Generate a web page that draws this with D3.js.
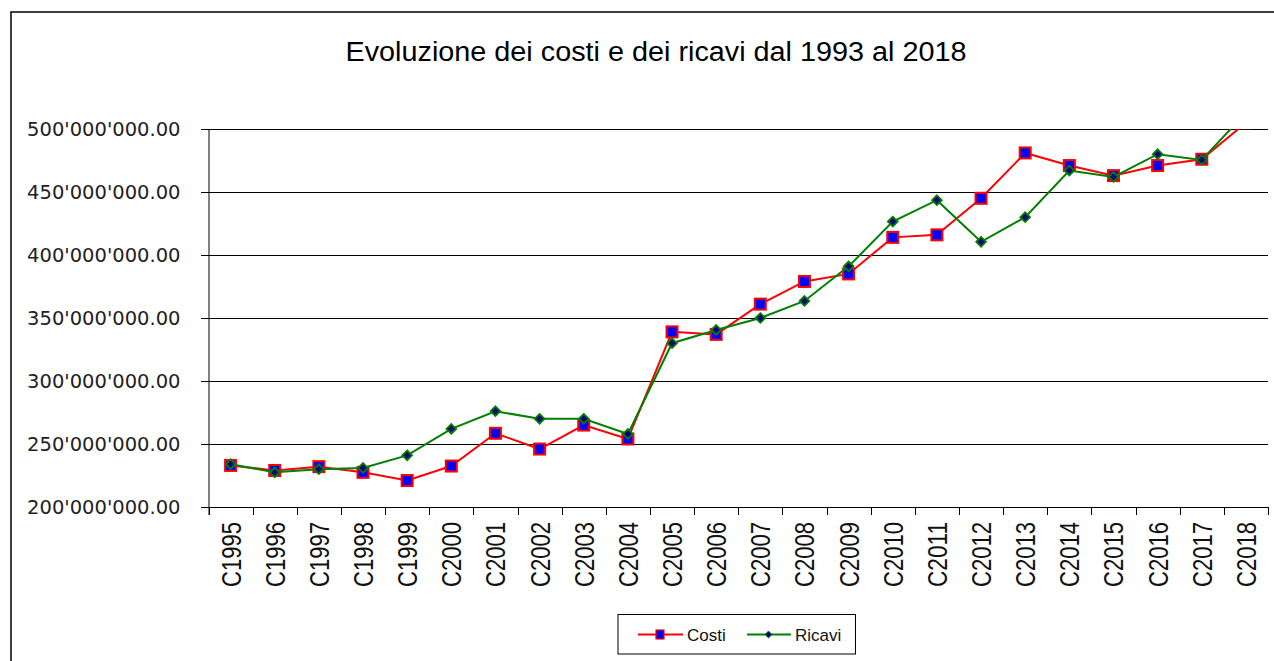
<!DOCTYPE html>
<html>
<head>
<meta charset="utf-8">
<script src="https://cdn.jsdelivr.net/npm/d3@7"></script>
<style>
  html, body { margin: 0; padding: 0; background: #fff; }
  svg { display: block; }
</style>
</head>
<body>
<svg id="chart" width="1274" height="661"></svg>
<script>
// ---- data ----
const titleText = "Evoluzione dei costi e dei ricavi dal 1993 al 2018";
const categories = ["C1995","C1996","C1997","C1998","C1999","C2000","C2001","C2002","C2003","C2004","C2005","C2006","C2007","C2008","C2009","C2010","C2011","C2012","C2013","C2014","C2015","C2016","C2017","C2018"];
const costi  = [233000000, 229000000, 232000000, 227500000, 221000000, 232500000, 258500000, 246000000, 265000000, 254000000, 339000000, 337000000, 361000000, 379000000, 385000000, 414000000, 416000000, 445000000, 481000000, 471000000, 463000000, 471000000, 476000000, 505000000];
const ricavi = [234000000, 227500000, 230000000, 231000000, 241000000, 262000000, 276000000, 270000000, 270000000, 258000000, 330000000, 340500000, 350000000, 363500000, 391000000, 426500000, 443500000, 410500000, 430000000, 467000000, 462000000, 480000000, 475500000, 513000000];
const yTicks = [200000000, 250000000, 300000000, 350000000, 400000000, 450000000, 500000000];
const seriesNames = ["Costi", "Ricavi"];

// ---- layout ----
const svg = d3.select("#chart");
const pLeft = 208.5, pRight = 1268, pTop = 129, pBottom = 507;

const locale = d3.formatLocale({decimal: ".", thousands: "'", grouping: [3], currency: ["", ""]});
const fmt = locale.format(",.2f");

const x = d3.scaleBand().domain(categories).range([pLeft, pRight]).padding(0);
const y = d3.scaleLinear().domain([200000000, 500000000]).range([pBottom, pTop]);
const cx = d => x(d) + x.bandwidth() / 2;

// outer frame
svg.append("rect")
  .attr("x", 11).attr("y", 12).attr("width", 1300).attr("height", 700)
  .attr("fill", "none").attr("stroke", "#000").attr("stroke-width", 1.5);

// title
svg.append("text")
  .attr("x", 656).attr("y", 61)
  .attr("text-anchor", "middle")
  .attr("textLength", 621).attr("lengthAdjust", "spacingAndGlyphs")
  .style("font-family", "'Liberation Sans Narrow', 'Arial Narrow', 'Liberation Sans', sans-serif")
  .style("font-size", "27px")
  .attr("fill", "#000")
  .text(titleText);

// gridlines
svg.append("g").selectAll("line").data(yTicks).join("line")
  .attr("x1", pLeft).attr("x2", pRight)
  .attr("y1", d => Math.round(y(d)) + 0.5).attr("y2", d => Math.round(y(d)) + 0.5)
  .attr("stroke", "#000").attr("stroke-width", 1)
  .attr("shape-rendering", "crispEdges");

// y axis
const yAxis = svg.append("g")
  .attr("transform", `translate(${pLeft},0)`)
  .call(d3.axisLeft(y).tickValues(yTicks).tickFormat(fmt).tickSize(8).tickPadding(20));
yAxis.select(".domain").attr("stroke", "#000").attr("d", `M0.5,${pTop}V${pBottom + 8}`);
yAxis.selectAll(".tick line").attr("stroke", "#000").attr("shape-rendering", "crispEdges");
yAxis.selectAll(".tick text")
  .attr("fill", "#222")
  .style("font-family", "'DejaVu Sans', sans-serif")
  .style("font-size", "19.5px");

// x axis line + boundary ticks
const xg = svg.append("g");
xg.append("line")
  .attr("x1", pLeft).attr("x2", pRight)
  .attr("y1", pBottom + 0.5).attr("y2", pBottom + 0.5)
  .attr("stroke", "#000").attr("shape-rendering", "crispEdges");
const boundaries = categories.map(d => x(d)).concat([x.range()[1]]);
xg.selectAll("line.tk").data(boundaries).join("line").attr("class", "tk")
  .attr("x1", d => Math.round(d) + 0.5).attr("x2", d => Math.round(d) + 0.5)
  .attr("y1", pBottom).attr("y2", pBottom + 8)
  .attr("stroke", "#000").attr("shape-rendering", "crispEdges");
xg.selectAll("text").data(categories).join("text")
  .attr("transform", d => `translate(${cx(d) + 1},${pBottom + 15}) rotate(-90)`)
  .attr("text-anchor", "end")
  .attr("dominant-baseline", "central")
  .attr("textLength", 65).attr("lengthAdjust", "spacingAndGlyphs")
  .style("font-family", "'Liberation Sans Narrow', 'Arial Narrow', 'Liberation Sans', sans-serif")
  .style("font-size", "27px")
  .attr("fill", "#111")
  .text(d => d);

// clip
svg.append("defs").append("clipPath").attr("id", "plotclip")
  .append("rect").attr("x", pLeft).attr("y", pTop).attr("width", pRight - pLeft).attr("height", pBottom - pTop + 10);

const plot = svg.append("g").attr("clip-path", "url(#plotclip)");
const line = d3.line().x((d, i) => cx(categories[i])).y(d => y(d));

// Costi
plot.append("path").datum(costi).attr("d", line)
  .attr("fill", "none").attr("stroke", "#ff0000").attr("stroke-width", 2);
plot.append("g").selectAll("rect").data(costi).join("rect")
  .attr("x", (d, i) => cx(categories[i]) - 5.5).attr("y", d => y(d) - 5.5)
  .attr("width", 11).attr("height", 11)
  .attr("fill", "#0000ff").attr("stroke", "#ff0000").attr("stroke-width", 2);

// Ricavi
plot.append("path").datum(ricavi).attr("d", line)
  .attr("fill", "none").attr("stroke", "#008000").attr("stroke-width", 2);
const diamond = d3.symbol().type(d3.symbolDiamond2).size(60);
plot.append("g").selectAll("path").data(ricavi).join("path")
  .attr("d", diamond)
  .attr("transform", (d, i) => `translate(${cx(categories[i])},${y(d)})`)
  .attr("fill", "#000080").attr("stroke", "#008000").attr("stroke-width", 1.8);

// legend
const lg = svg.append("g");
lg.append("rect").attr("x", 618).attr("y", 614.5).attr("width", 237.5).attr("height", 39.5)
  .attr("fill", "#fff").attr("stroke", "#000").attr("stroke-width", 1);
const ly = 634.5;
// Costi entry
lg.append("line").attr("x1", 638).attr("x2", 683).attr("y1", ly).attr("y2", ly)
  .attr("stroke", "#ff0000").attr("stroke-width", 2);
lg.append("rect").attr("x", 660 - 4).attr("y", ly - 4.5).attr("width", 8).attr("height", 9)
  .attr("fill", "#0000ff").attr("stroke", "#ff0000").attr("stroke-width", 1.2);
lg.append("text").attr("x", 687).attr("y", ly).attr("dy", "0.36em")
  .style("font-family", "'Liberation Sans', Arial, sans-serif").style("font-size", "17px")
  .attr("fill", "#111").text(seriesNames[0]);
// Ricavi entry
lg.append("line").attr("x1", 747).attr("x2", 791).attr("y1", ly).attr("y2", ly)
  .attr("stroke", "#008000").attr("stroke-width", 2);
lg.append("path").attr("d", d3.symbol().type(d3.symbolDiamond2).size(30))
  .attr("transform", `translate(768.5,${ly})`)
  .attr("fill", "#000080").attr("stroke", "#008000").attr("stroke-width", 1);
lg.append("text").attr("x", 795).attr("y", ly).attr("dy", "0.36em")
  .style("font-family", "'Liberation Sans', Arial, sans-serif").style("font-size", "17px")
  .attr("fill", "#111").text(seriesNames[1]);
</script>
</body>
</html>
